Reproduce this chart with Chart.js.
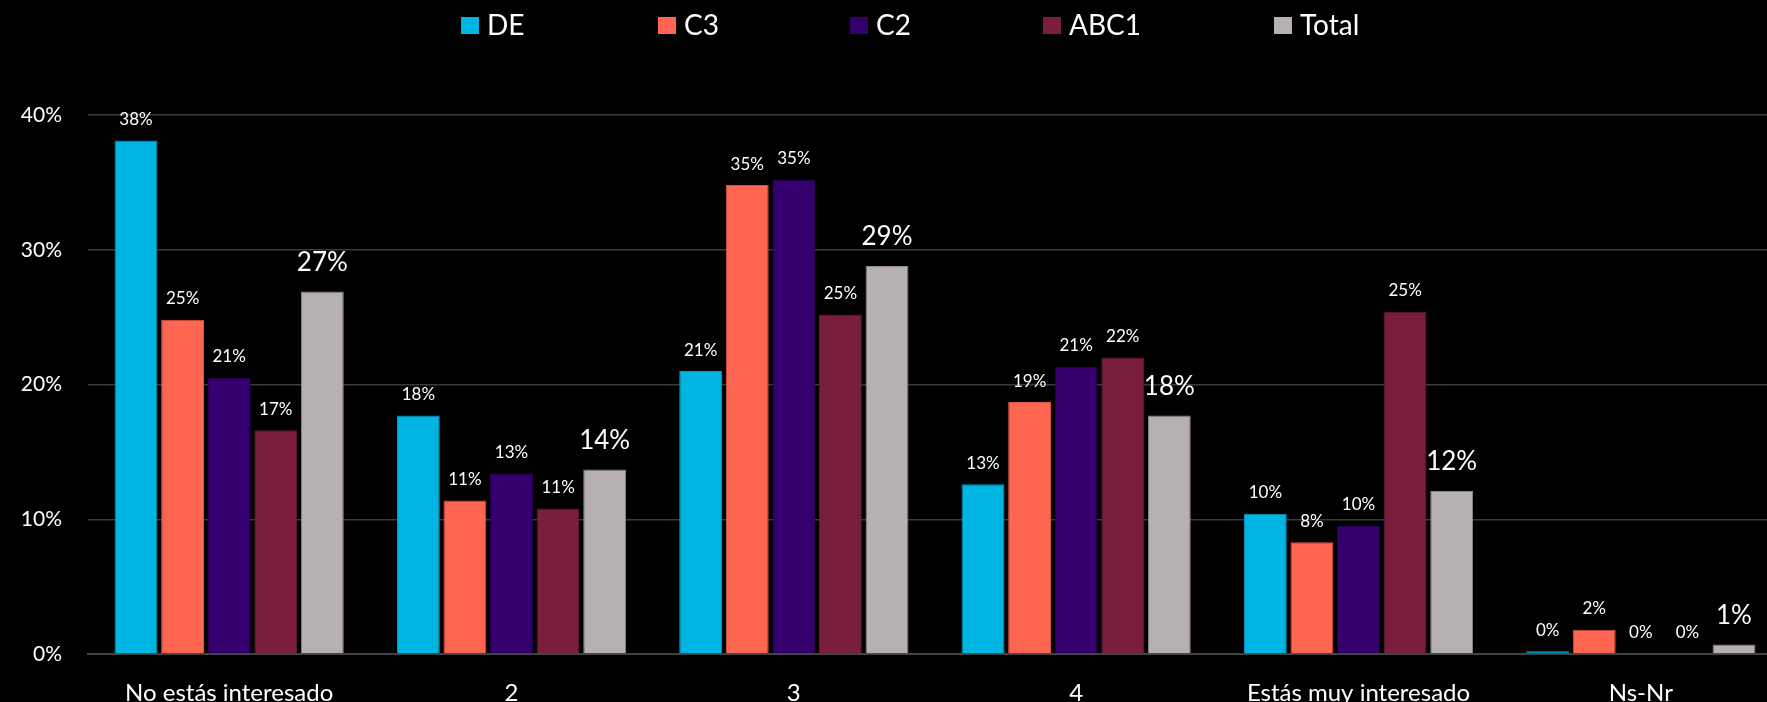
<!DOCTYPE html>
<html>
<head>
<meta charset="utf-8">
<script src="https://cdn.jsdelivr.net/npm/chart.js@4"></script>
<style>
  html, body { margin: 0; padding: 0; background: #000; overflow: hidden; }
  #wrap { width: 1782px; height: 702px; }
</style>
</head>
<body>
<div id="wrap"><canvas id="interes"></canvas></div>
<script>
var categorias = ['No estás interesado', '2', '3', '4', 'Estás muy interesado', 'Ns-Nr'];
var serieDE    = [38.1, 17.7, 21.0, 12.6, 10.4, 0.2];
var serieC3    = [24.8, 11.4, 34.8, 18.7, 8.3, 1.8];
var serieC2    = [20.5, 13.4, 35.2, 21.3, 9.5, 0];
var serieABC1  = [16.6, 10.8, 25.2, 22.0, 25.4, 0];
var serieTotal = [26.9, 13.7, 28.8, 17.7, 12.1, 0.7];
var ticksY = [0, 10, 20, 30, 40];

Chart.defaults.font.family = 'Lato';
Chart.defaults.color = '#fff';

// etiquetas de valor encima de cada barra (Total va más grande)
var etiquetas = {
    id: 'etiquetas',
    afterDatasetsDraw: function (chart) {
        var c = chart.ctx;
        c.save();
        c.fillStyle = '#fff';
        c.textAlign = 'center';
        c.textBaseline = 'middle';
        chart.data.datasets.forEach(function (ds, i) {
            var grande = ds.label === 'Total';
            c.font = (grande ? '26px' : '17px') + ' Lato';
            chart.getDatasetMeta(i).data.forEach(function (bar, j) {
                c.fillText(Math.round(ds.data[j]) + '%', bar.x, bar.y - (grande ? 29 : 21));
            });
        });
        c.restore();
    }
};

// leyenda dibujada a mano para respetar el espaciado del original
var leyenda = {
    id: 'leyenda',
    afterDraw: function (chart, args, opts) {
        var c = chart.ctx;
        c.save();
        c.font = '28px Lato';
        c.textBaseline = 'middle';
        chart.data.datasets.forEach(function (ds, i) {
            var x = opts.xs[i];
            c.fillStyle = ds.backgroundColor;
            c.fillRect(x, 17, 18, 17);
            c.fillStyle = '#fff';
            c.fillText(ds.label, x + 26, 26);
        });
        c.restore();
    }
};

var ctx = document.getElementById('interes');
new Chart(ctx, {
    type: 'bar',
    data: {
        labels: categorias,
        datasets: [
            { label: 'DE', data: serieDE, backgroundColor: '#00B5E2', borderColor: '#0a98c0' },
            { label: 'C3', data: serieC3, backgroundColor: '#FF6651', borderColor: '#d85443' },
            { label: 'C2', data: serieC2, backgroundColor: '#35006E', borderColor: '#2a0058' },
            { label: 'ABC1', data: serieABC1, backgroundColor: '#7A1E3E', borderColor: '#631832' },
            { label: 'Total', data: serieTotal, backgroundColor: '#B6B0B0', borderColor: '#8e8888' },
        ]
    },
    plugins: [etiquetas, leyenda],
    options: {
        responsive: true,
        maintainAspectRatio: false,
        animation: false,
        layout: {
            padding: { top: 115, left: 0, right: 0, bottom: 0 },
        },
        datasets: {
            bar: {
                barPercentage: 0.92,
                categoryPercentage: 0.825,
                borderWidth: 1,
            }
        },
        plugins: {
            legend: { display: false },
            tooltip: { enabled: false },
            leyenda: { xs: [461, 658, 850, 1043, 1274] },
        },
        scales: {
            x: {
                grid: { display: false },
                border: { color: '#444', width: 2 },
                ticks: {
                    color: '#fff',
                    font: { size: 24 },
                    padding: 17,
                    maxRotation: 0,
                    autoSkip: false,
                },
                afterFit: function (scale) { scale.height = 48; },
            },
            y: {
                min: 0,
                max: 40,
                afterBuildTicks: function (scale) {
                    scale.ticks = ticksY.map(function (v) { return { value: v }; });
                },
                grid: { color: '#3a3a3a', lineWidth: 1.5, drawTicks: false },
                border: { display: false },
                ticks: {
                    color: '#fff',
                    font: { size: 21 },
                    padding: 26,
                    callback: function (v) { return v + '%'; },
                },
                afterFit: function (scale) { scale.width = 88; },
            },
        },
    },
});
</script>
</body>
</html>
